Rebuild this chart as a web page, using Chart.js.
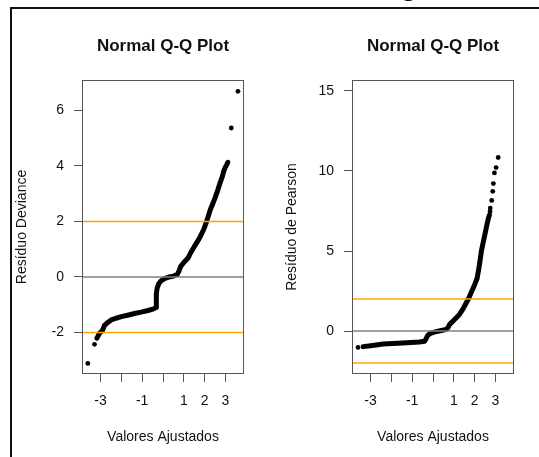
<!DOCTYPE html>
<html>
<head>
<meta charset="utf-8">
<script src="https://cdn.jsdelivr.net/npm/chart.js@4.4.1/dist/chart.umd.min.js"></script>
<style>
body{margin:0;background:#fff;}
#cap{position:absolute;left:0;top:0;width:539px;height:7px;overflow:hidden;}
#cap span{position:absolute;left:402px;top:-25px;font-size:26px;line-height:26px;font-family:"Liberation Serif",serif;color:#111;}
#marco{position:absolute;left:10px;top:7px;width:600px;height:500px;border-top:2px solid #111;border-left:2px solid #111;}
canvas{position:absolute;top:0;}
</style>
</head>
<body>
<div id="cap"><span>g</span></div>
<div id="marco"></div>
<canvas id="qq_dev" width="270" height="457" style="left:0px"></canvas>
<canvas id="qq_pear" width="269" height="457" style="left:270px"></canvas>
<script>
// eixos
var xMin = -3.89, xMax = 3.89;
var xTicks = [-3, -2, -1, 0, 1, 2, 3];
var xTickLabels = ["-3", "", "-1", "", "1", "2", "3"];
var yTicksDev = [-2, 0, 2, 4, 6];
var yTicksPear = [0, 5, 10, 15];
var linhasRef = [0, 2, -2];

// residuo deviance: trecho denso e pontos soltos
var dev_x = [-3.17, -3.05, -2.90, -2.81, -2.65, -2.49, -2.26, -2.00, -1.70, -1.37, -1.05, -0.72, -0.45, -0.33,
             -0.32, -0.32, -0.28, -0.20, -0.08, 0.10, 0.30, 0.50, 0.68, 0.76, 0.85, 1.00, 1.20, 1.35, 1.50,
             1.65, 1.80, 1.95, 2.08, 2.17, 2.27, 2.39, 2.51, 2.63, 2.75, 2.85, 2.91, 2.98, 3.06, 3.11];
var dev_y = [-2.21, -2.03, -1.92, -1.75, -1.64, -1.55, -1.49, -1.43, -1.38, -1.32, -1.27, -1.21, -1.15, -1.10,
             -0.95, -0.62, -0.40, -0.24, -0.13, -0.05, 0.00, 0.03, 0.09, 0.20, 0.38, 0.52, 0.68, 0.90, 1.09,
             1.27, 1.47, 1.70, 1.97, 2.18, 2.42, 2.64, 2.87, 3.13, 3.41, 3.62, 3.80, 3.93, 4.05, 4.13];
var devSolto_x = [-3.61, -3.29, 3.28, 3.60];
var devSolto_y = [-3.12, -2.43, 5.37, 6.69];

// residuo de pearson
var pear_x = [-3.35, -2.90, -2.40, -1.46, -0.66, -0.40, -0.32, -0.26, -0.12, 0.10, 0.35, 0.62, 0.72, 0.80,
              1.00, 1.26, 1.45, 1.58, 1.70, 1.85, 2.00, 2.12, 2.20, 2.27, 2.33, 2.42, 2.52, 2.60, 2.66, 2.71];
var pear_y = [-0.97, -0.90, -0.81, -0.74, -0.68, -0.63, -0.45, -0.28, -0.14, -0.05, 0.02, 0.10, 0.22, 0.42,
              0.68, 1.02, 1.40, 1.72, 2.00, 2.45, 2.90, 3.30, 3.90, 4.50, 5.05, 5.60, 6.20, 6.70, 7.05, 7.25];
var pearSolto_x = [-3.60, 2.74, 2.75, 2.82, 2.87, 2.90, 2.95, 3.03, 3.13];
var pearSolto_y = [-1.02, 7.47, 7.68, 8.16, 8.73, 9.21, 9.88, 10.21, 10.84];

Chart.defaults.font.family = "'Liberation Sans', Arial, sans-serif";
Chart.defaults.color = '#111';

function pares(xs, ys) {
    return xs.map(function (v, i) { return {x: v, y: ys[i]}; });
}

// moldura do grafico (box() do R)
var caixa = {
    id: 'caixa',
    afterDatasetsDraw: function (chart) {
        var a = chart.chartArea, c = chart.ctx;
        c.save();
        c.strokeStyle = '#555';
        c.lineWidth = 1;
        c.strokeRect(a.left + 0.5, a.top + 0.5, a.right - a.left - 1, a.bottom - a.top - 1);
        c.restore();
    }
};

function graficar(id, padDir, densoX, densoY, soltoX, soltoY, yTicks, yMin, yMax, yTitulo) {
    var conjuntos = linhasRef.map(function (h) {
        return {
            data: [{x: xMin, y: h}, {x: xMax, y: h}],
            showLine: true, borderColor: h === 0 ? '#808080' : '#FFA500',
            borderWidth: 1.5, pointRadius: 0
        };
    });
    conjuntos.push({
        data: pares(soltoX, soltoY), showLine: false,
        pointRadius: 2.4, pointBackgroundColor: '#000', pointBorderWidth: 0
    });
    conjuntos.push({
        data: pares(densoX, densoY), showLine: true, borderColor: '#000', borderWidth: 5,
        borderCapStyle: 'round', borderJoinStyle: 'round', pointRadius: 0
    });

    return new Chart(document.getElementById(id).getContext('2d'), {
        type: 'scatter',
        data: {datasets: conjuntos},
        plugins: [caixa],
        options: {
            responsive: false,
            animation: false,
            layout: {padding: {left: 0, right: padDir, top: 0, bottom: 0}},
            plugins: {
                legend: {display: false},
                tooltip: {enabled: false},
                title: {
                    display: true, text: 'Normal Q-Q Plot', fullSize: false, color: '#111',
                    font: {size: 17, weight: 'bold', lineHeight: 1},
                    padding: {top: 37.5, bottom: 25.5}
                }
            },
            scales: {
                x: {
                    type: 'linear', min: xMin, max: xMax,
                    afterBuildTicks: function (s) { s.ticks = xTicks.map(function (v) { return {value: v}; }); },
                    afterFit: function (s) { s.height = 83; },
                    grid: {drawOnChartArea: false, drawTicks: true, tickLength: 8, color: '#555', tickColor: '#555'},
                    border: {display: false},
                    ticks: {
                        autoSkip: false, maxRotation: 0, padding: 11, font: {size: 14},
                        callback: function (v) { return xTickLabels[xTicks.indexOf(v)]; }
                    },
                    title: {display: true, text: 'Valores Ajustados', font: {size: 14}, padding: {top: 0, bottom: 11.6}}
                },
                y: {
                    type: 'linear', min: yMin, max: yMax,
                    afterBuildTicks: function (s) { s.ticks = yTicks.map(function (v) { return {value: v}; }); },
                    afterFit: function (s) { s.width = 82; },
                    grid: {drawOnChartArea: false, drawTicks: true, tickLength: 8, color: '#555', tickColor: '#555'},
                    border: {display: false},
                    ticks: {autoSkip: false, padding: 10, font: {size: 14}},
                    title: {display: true, text: yTitulo, font: {size: 14}, padding: {top: 13.6, bottom: 0}}
                }
            }
        }
    });
}

var grafico_dev = graficar('qq_dev', 26, dev_x, dev_y, devSolto_x, devSolto_y, yTicksDev, -3.5, 7.1, 'Resíduo Deviance');
var grafico_pear = graficar('qq_pear', 25, pear_x, pear_y, pearSolto_x, pearSolto_y, yTicksPear, -2.68, 15.68, 'Resíduo de Pearson');
</script>
</body>
</html>
